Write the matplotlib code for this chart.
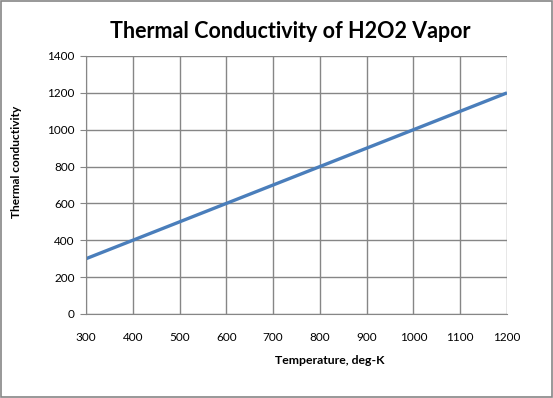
import matplotlib
matplotlib.use("Agg")
import matplotlib.pyplot as plt

# data
temperature = [300, 400, 500, 600, 700, 800, 900, 1000, 1100, 1200]
conductivity = [300, 400, 500, 600, 700, 800, 900, 1000, 1100, 1200]
x_ticks = [300, 400, 500, 600, 700, 800, 900, 1000, 1100, 1200]
y_ticks = [0, 200, 400, 600, 800, 1000, 1200, 1400]

plt.rcParams['font.family'] = ['Lato', 'DejaVu Sans']

W, H = 553, 398
fig = plt.figure(figsize=(W / 100, H / 100), dpi=100)
ax = fig.add_axes([86 / W, 1 - 314 / H, (507 - 86) / W, (314 - 56) / H])

ax.plot(temperature, conductivity, color='#4A7EBB', lw=2.4, solid_capstyle='butt')

ax.set_xlim(300, 1200)
ax.set_ylim(0, 1400)
ax.set_xticks(x_ticks)
ax.set_yticks(y_ticks)
ax.grid(True, color='#868686', lw=1)
ax.set_axisbelow(True)
for s in ['top', 'right']:
    ax.spines[s].set_visible(False)
for s in ['left', 'bottom']:
    ax.spines[s].set_color('#868686')
ax.tick_params(axis='x', length=0, pad=13, labelsize=8.5)
ax.tick_params(axis='y', length=4, color='#868686', pad=4, labelsize=8.5)

# titles placed like the excel layout
fig.text(290 / W, 1 - 31 / H, 'Thermal Conductivity of H2O2 Vapor', fontsize=15.5,
         fontweight='bold', ha='center', va='center')
fig.text(330 / W, 1 - 360 / H, 'Temperature, deg-K', fontsize=8.8,
         fontweight='bold', ha='center', va='center')
fig.text(17 / W, 1 - 162 / H, 'Thermal conductivity', fontsize=8.6,
         fontweight='bold', ha='center', va='center', rotation=90)

# outer border
fig.patches.append(plt.Rectangle((0.001, 0.002), 0.997, 0.996, transform=fig.transFigure,
                                 fill=False, edgecolor='#868686', lw=1.2))

fig.savefig('out.png', dpi=100)
